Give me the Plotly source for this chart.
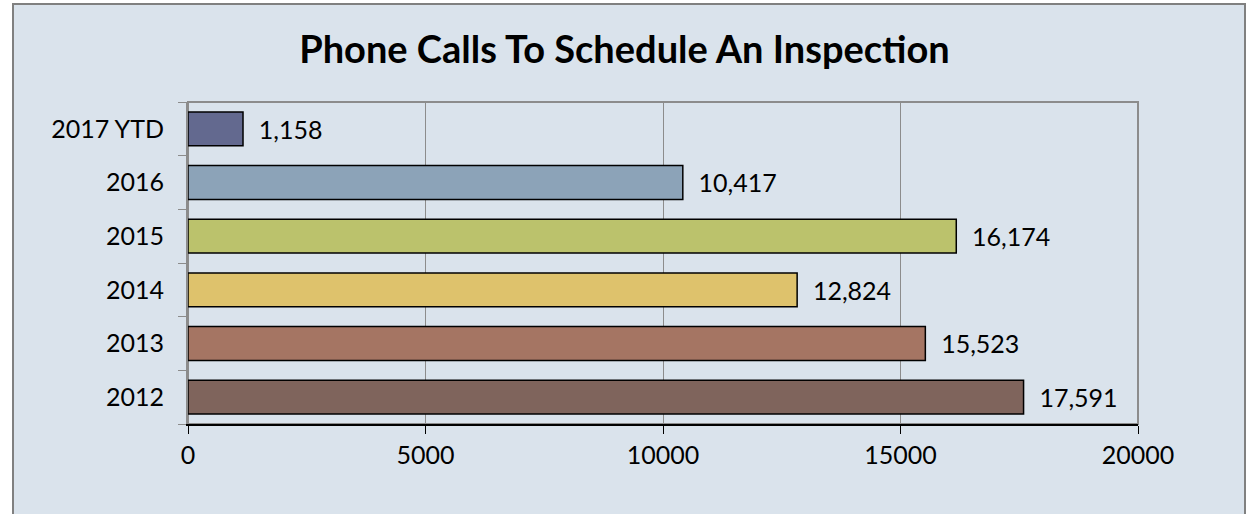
import plotly.graph_objects as go

years = ["2012", "2013", "2014", "2015", "2016", "2017 YTD"]
calls = [17591, 15523, 12824, 16174, 10417, 1158]
colors = ["#7F645C", "#A57563", "#DEC26C", "#BBC26C", "#8CA3B8", "#63698F"]
title = "Phone Calls To Schedule An Inspection"

W, H = 1249, 514
ML, MR, MT, MB = 188, 111, 102, 90
PW, PH = W - ML - MR, H - MT - MB

def px_x(p):
    return (p - ML) / PW

def px_y(p):
    return (H - MB - p) / PH

FONT = "Lato"
BG = "#DAE3EC"

fig = go.Figure(go.Bar(
    x=calls, y=years, orientation="h",
    marker=dict(color=colors, line=dict(color="#000000", width=1.5)),
    texttemplate="  %{x:,}", textposition="outside",
    textfont=dict(family=FONT, size=25, color="#000000"),
    cliponaxis=False, width=0.63, hoverinfo="skip",
))

fig.update_layout(
    width=W, height=H,
    margin=dict(l=ML, r=MR, t=MT, b=MB),
    paper_bgcolor="white", plot_bgcolor=BG,
    showlegend=False,
    font=dict(family=FONT, size=25, color="#000000"),
    title=dict(text="<b>" + title + "</b>", x=0.5, xref="container", xanchor="center",
               y=1 - 50 / H, yanchor="middle", yref="container",
               font=dict(family=FONT, size=38, color="#000000")),
    xaxis=dict(range=[0, 20000], dtick=5000, tickformat="d",
               showgrid=True, gridcolor="#8C8C8C", gridwidth=1,
               zeroline=False, showline=True, linecolor="#000000", linewidth=1.5,
               ticks="outside", ticklen=8, tickcolor="#000000",
               tickfont=dict(family=FONT, size=25), ticklabelstandoff=0,
               automargin=False),
    yaxis=dict(type="category", categoryorder="array", categoryarray=years,
               showline=True, linecolor="#8C8C8C", linewidth=2,
               ticks="outside", tickson="boundaries", ticklen=8, tickcolor="#8C8C8C",
               showgrid=False, tickfont=dict(family=FONT, size=25), ticklabelstandoff=17,
               automargin=False),
    shapes=[
        dict(type="rect", xref="paper", yref="paper",
             x0=px_x(13), x1=px_x(1245), y0=px_y(540), y1=px_y(4),
             fillcolor=BG, line=dict(color="#808080", width=2), layer="below"),
        dict(type="rect", xref="paper", yref="paper", x0=0, x1=1, y0=0, y1=1,
             line=dict(color="#8C8C8C", width=2), layer="below"),
    ],
)

fig.write_html("out.html", config={"displayModeBar": False},
               post_script="document.body.style.margin='0';")
